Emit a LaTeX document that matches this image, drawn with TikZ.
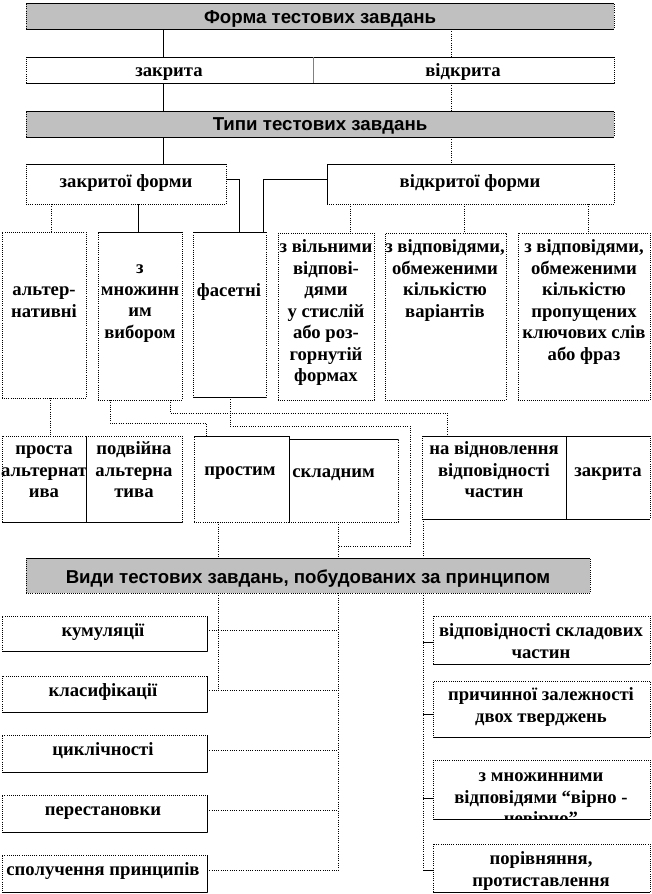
\documentclass[tikz,border=0pt]{standalone}
\usepackage{fontspec}
\setmainfont{Liberation Serif}
\newfontfamily\hdrfont{Liberation Sans}
\definecolor{silver}{HTML}{C0C0C0}
\tikzset{
  box/.style={draw, densely dotted, line width=0.6pt, inner sep=0pt, outer sep=0pt},
  gbox/.style={box, fill=silver},
  txt/.style={font=\fontsize{14}{16.1}\selectfont\bfseries, align=center, inner sep=0pt, anchor=north},
  htxt/.style={txt, font=\hdrfont\fontsize{14}{16.1}\selectfont\bfseries},
  sl/.style={line width=0.6pt, solid},
  dl/.style={line width=0.7pt, densely dotted},
}
% box: [opts]{x1}{y1}{x2}{y2}{name}
\newcommand\bx[6][]{\node[box,#1, minimum width={(#4-#2)*0.75pt}, minimum height={(#5-#3)*0.75pt}] (#6) at ({(#2+#4)/2},{(#3+#5)/2}) {};}
% text: [opts]{x}{first line centre y}{name}{text}
\newcommand\tx[5][]{\node[txt,#1] (#4) at (#2,{#3-8.5}) {\strut #5};}
\newcommand\seh[2]{\draw[sl] (#1.#2 west) -- (#1.#2 east);}
\newcommand\sev[2]{\draw[sl] (#1.north #2) -- (#1.south #2);}
\begin{document}
\begin{tikzpicture}[x=0.75pt, y=-0.75pt]
\useasboundingbox (0,0) rectangle (652,894);

% ---------- boxes ----------
\bx[gbox]{26}{3}{614}{29}{forma}
\tx[htxt]{320}{17}{tforma}{Форма тестових завдань}
\bx{26}{57}{313}{83}{zakr}
\tx{169}{70}{tzakr}{закрита}
\bx{313}{57}{614}{83}{vidk}
\tx{463}{70}{tvidk}{відкрита}
\bx[gbox]{26}{111}{614}{137}{typy}
\tx[htxt]{320}{124}{ttypy}{Типи тестових завдань}
\bx{26}{164}{226}{204}{zf}
\tx{126}{181}{tzf}{закритої форми}
\bx{327}{164}{614}{204}{vf}
\tx{470}{181}{tvf}{відкритої форми}

\bx{2}{232}{86}{398}{alt}
\tx{44}{289}{talt}{альтер-\\нативні}
\bx{98}{232}{182}{400}{mnoz}
\tx{140}{267}{tmnoz}{з\\множинн\\им\\вибором}
\bx{193}{232}{266}{397}{fas}
\tx{229}{290}{tfas}{фасетні}
\bx{278}{233}{374}{400}{vil}
\tx{326}{246}{tvil}{з вільними\\відпові-\\дями\\у стислій\\або роз-\\горнутій\\формах}
\bx{385}{233}{506}{400}{obm}
\tx{445}{246}{tobm}{з відповідями,\\обмеженими\\кількістю\\варіантів}
\bx{518}{233}{650}{400}{klyu}
\tx{584}{246}{tklyu}{з відповідями,\\обмеженими\\кількістю\\пропущених\\ключових слів\\або фраз}

\bx{2}{436}{86}{522}{prosta}
\tx{44}{448}{tprosta}{проста\\альтернат\\ива}
\bx{86}{436}{182}{522}{podv}
\tx{134}{448}{tpodv}{подвійна\\альтерна\\тива}
\bx{194}{436}{289}{522}{prostym}
\tx{240}{469}{tprostym}{простим}
\bx{289}{439}{398}{522}{skladn}
\tx[anchor=north west]{292}{471}{tskladn}{складним}
\bx{422}{436}{566}{519}{vidnov}
\tx{494}{448}{tvidnov}{на відновлення\\відповідності\\частин}
\bx{566}{436}{650}{519}{zakr2}
\tx{608}{470}{tzakr2}{закрита}

\bx[gbox]{26}{558}{590}{593}{vydy}
\tx[htxt]{308}{577}{tvydy}{Види тестових завдань, побудованих за принципом}

\bx{2}{616}{207}{651}{kum}
\tx{103}{630}{tkum}{кумуляції}
\bx{2}{676}{207}{712}{klas}
\tx{103}{690}{tklas}{класифікації}
\bx{2}{735}{207}{772}{cyc}
\tx{103}{749}{tcyc}{циклічності}
\bx{2}{795}{207}{832}{perest}
\tx{103}{809}{tperest}{перестановки}
\bx{2}{855}{207}{892}{spol}
\tx{103}{869}{tspol}{сполучення принципів}

\bx{433}{616}{650}{664}{vsk}
\tx{541}{630}{tvsk}{відповідності складових\\частин}
\bx{433}{681}{650}{737}{prych}
\tx{541}{694}{tprych}{причинної залежності\\двох тверджень}
\bx{433}{760}{650}{819}{mnozh}
\begin{scope}
\clip (mnozh.south west) rectangle (mnozh.north east);
\tx{541}{775}{tmnozh}{з множинними\\відповідями “вірно -\\невірно”}
\end{scope}
\bx{433}{844}{650}{892}{poriv}
\tx{541}{858}{tporiv}{порівняння,\\протиставлення}

% ---------- solid edges ----------
\seh{forma}{north}\seh{forma}{south}
\seh{zakr}{north}\seh{zakr}{south}\seh{vidk}{north}\seh{vidk}{south}
\draw[sl, gray] (zakr.north east) -- (zakr.south east);
\seh{typy}{north}\seh{typy}{south}
\seh{zf}{north}
\seh{vf}{north}\sev{vf}{west}
\seh{mnoz}{north}
\seh{fas}{north}\seh{fas}{south}
\seh{prosta}{south}\sev{prosta}{east}\seh{podv}{south}
\seh{prostym}{north}\sev{prostym}{east}\seh{skladn}{north}
\seh{vidnov}{north}\seh{vidnov}{south}\sev{vidnov}{east}
\seh{zakr2}{north}\seh{zakr2}{south}
\seh{vydy}{north}
\foreach \n in {kum,klas,cyc,perest,spol}{\seh{\n}{south}\sev{\n}{east}}
\foreach \n in {vsk,prych,mnozh,poriv}{\seh{\n}{south}}

% ---------- connectors between named boxes ----------
\draw[sl] (forma.south -| 163,0) -- (zakr.north -| 163,0);
\draw[dl] (forma.south -| 451,0) -- (vidk.north -| 451,0);
\draw[sl] (zakr.south -| 163,0) -- (typy.north -| 163,0);
\draw[dl] (vidk.south -| 451,0) -- (typy.north -| 451,0);
\draw[sl] (typy.south -| 163,0) -- (zf.north -| 163,0);
\draw[dl] (typy.south -| 451,0) -- (vf.north -| 451,0);
\draw[dl] (zf.south -| 51,0) -- (alt.north -| 51,0);
\draw[sl] (zf.south -| 138,0) -- (mnoz.north -| 138,0);
\draw[sl] (zf.east |- 0,179) -| (fas.north -| 239,0);
\draw[sl] (vf.west |- 0,179) -| (fas.north -| 263,0);
\draw[dl] (vf.south -| 350,0) -- (vil.north -| 350,0);
\draw[dl] (vf.south -| 464,0) -- (obm.north -| 464,0);
\draw[dl] (vf.south -| 588,0) -- (klyu.north -| 588,0);
\draw[dl] (alt.south -| 50,0) -- (prosta.north -| 50,0);
\draw[dl] (mnoz.south -| 110,0) |- (206,423) -- (prostym.north -| 206,0);
\draw[dl] (mnoz.south -| 170,0) |- (447,413) -- (vidnov.north -| 447,0);
\coordinate (jn) at (338,546);
\draw[dl] (fas.south -| 230,0) |- (410,426) -- (410,546) -- (jn);
\draw[dl] (prostym.south -| 218,0) -- (vydy.north -| 218,0);
\draw[dl] (skladn.south -| 338,0) -- (vydy.north -| 338,0);
\draw[dl] (vidnov.south -| 423,0) -- (vydy.north -| 423,0);
\coordinate (lk) at (218,690);
\draw[dl] (vydy.south -| 218,0) -- (lk);
\coordinate (lb) at (338,870);
\draw[dl] (vydy.south -| 338,0) -- (lb);
\draw[dl] (kum.east |- 0,630) -- (338,630);
\draw[dl] (klas.east |- 0,690) -- (338,690);
\draw[dl] (cyc.east |- 0,750) -- (338,750);
\draw[dl] (perest.east |- 0,810) -- (338,810);
\draw[dl] (spol.east |- 0,870) -- (lb);
\coordinate (rb) at (423,870);
\draw[dl] (vydy.south -| 423,0) -- (rb);
\draw[sl] (423,642) -- (vsk.west |- 0,642);
\draw[sl] (423,714) -- (prych.west |- 0,714);
\draw[sl] (423,798) -- (mnozh.west |- 0,798);
\draw[sl] (rb) -- (poriv.west |- 0,870);
\end{tikzpicture}
\end{document}
